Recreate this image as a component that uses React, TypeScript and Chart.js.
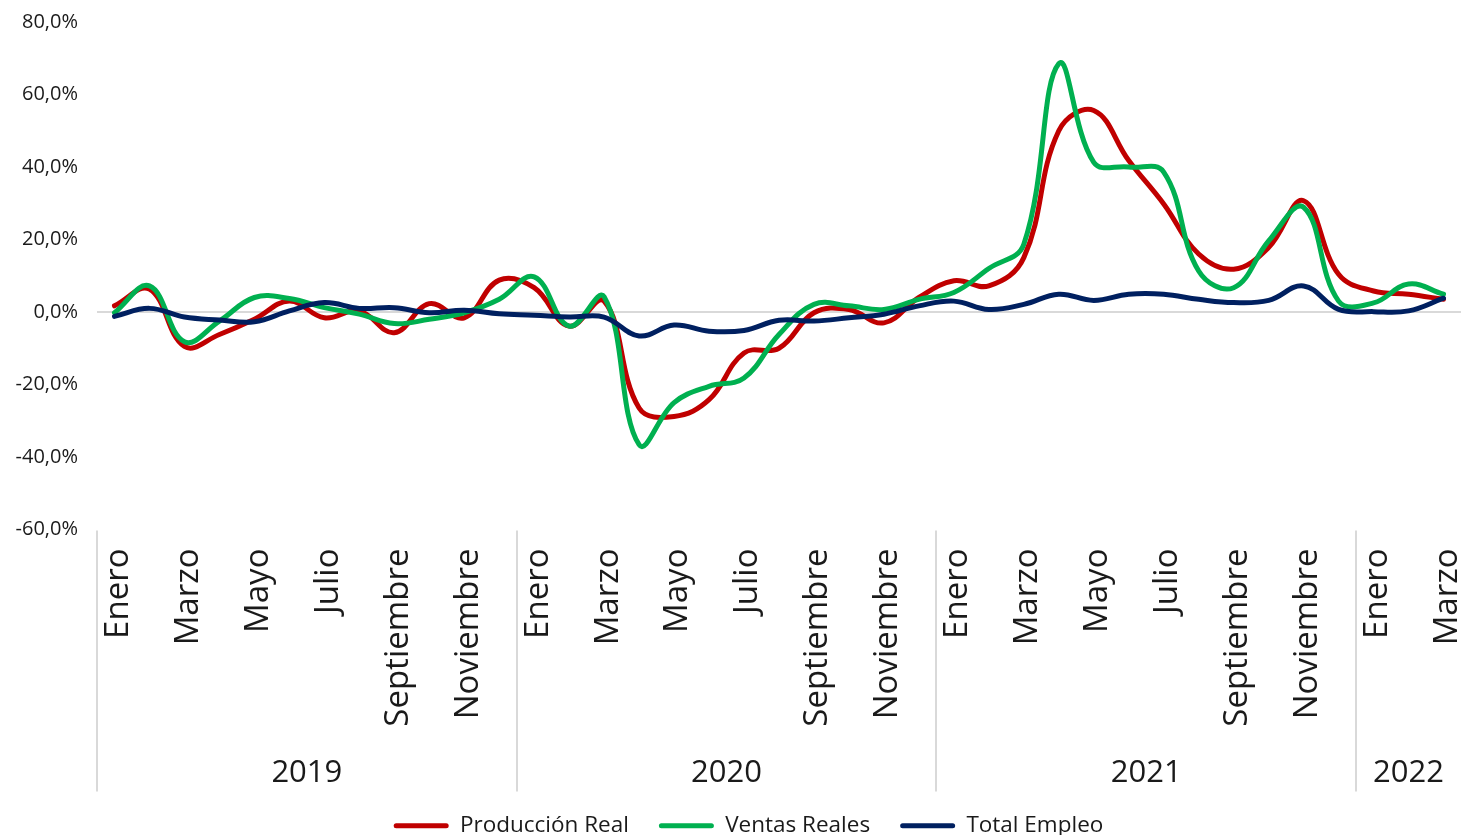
import React, { useEffect, useRef } from 'react';
import { Chart, registerables } from 'chart.js';

Chart.register(...registerables);

const MONTHS = ['Enero', 'Febrero', 'Marzo', 'Abril', 'Mayo', 'Junio', 'Julio', 'Agosto', 'Septiembre', 'Octubre', 'Noviembre', 'Diciembre'];
const CATEGORIES = [...MONTHS, ...MONTHS, ...MONTHS, 'Enero', 'Febrero', 'Marzo'];
const YEARS = ['2019', '2020', '2021', '2022'];
const YEAR_SPANS = [12, 12, 12, 3];

const PRODUCCION = [1.7, 6.3, -9.5, -6.2, -2, 3, -1.6, 0.3, -5.7, 2.3, -1.6, 8.8,
  6.7, -3.9, 3, -26.5, -28.8, -24.2, -11.3, -10, -0.2, 0.7, -3, 4,
  8.6, 7.2, 15, 50, 55.6, 41.8, 29.8, 16, 11.8, 17.8, 30.7, 10.4,
  5.8, 4.9, 3.5];
const VENTAS = [-0.2, 7.2, -8.2, -2.5, 4, 3.7, 1.2, -0.6, -3.2, -2, -0.2, 3.5,
  9.7, -3.9, 4.2, -36.6, -25, -20.5, -18.2, -6.2, 2.1, 1.7, 0.7, 3.5,
  5.4, 12, 18.7, 68.5, 41.3, 40, 38.6, 11.3, 6.7, 19.6, 28.9, 3,
  2.5, 7.7, 4.9];
const EMPLEO = [-1.2, 1, -1.4, -2.2, -2.7, 0.3, 2.6, 1, 1.2, -0.2, 0.5, -0.5,
  -0.9, -1.4, -1.4, -6.6, -3.6, -5.3, -5.1, -2.3, -2.5, -1.6, -0.6, 1.7,
  3, 0.7, 2.1, 4.9, 3.2, 4.9, 4.9, 3.5, 2.6, 3.2, 7.2, 0.7,
  0.1, 0.3, 3.8];

const SERIES = [
  { label: 'Producción Real', data: PRODUCCION, color: '#C00000', order: 3 },
  { label: 'Ventas Reales', data: VENTAS, color: '#00B050', order: 2 },
  { label: 'Total Empleo', data: EMPLEO, color: '#002060', order: 1 },
];

const FONT = "'Open Sans', sans-serif";
const TEXT = '#1a1a1a';
const SEP = '#d9d9d9';
const SEP_LENGTH = 262;
const X_AXIS_HEIGHT = 255;
const LEGEND_SHIFT = 18;

const yearAxisPlugin = {
  id: 'yearAxis',
  afterLayout(chart: any) {
    const lg = chart.legend;
    if (lg) {
      lg.left += LEGEND_SHIFT;
      lg.right += LEGEND_SHIFT;
    }
  },
  afterDraw(chart: any) {
    const xs = chart.scales.x;
    const area = chart.chartArea;
    const ctx = chart.ctx;
    const half = (xs.getPixelForValue(1) - xs.getPixelForValue(0)) / 2;
    ctx.save();
    ctx.strokeStyle = SEP;
    ctx.lineWidth = 2;
    ctx.fillStyle = TEXT;
    ctx.font = `31px ${FONT}`;
    ctx.textAlign = 'center';
    ctx.textBaseline = 'middle';
    let start = 0;
    YEARS.forEach((yr, k) => {
      const end = start + YEAR_SPANS[k] - 1;
      const left = Math.round(xs.getPixelForValue(start) - half);
      ctx.beginPath();
      ctx.moveTo(left, area.bottom + 1);
      ctx.lineTo(left, area.bottom + SEP_LENGTH);
      ctx.stroke();
      const cx = (xs.getPixelForValue(start) + xs.getPixelForValue(end)) / 2;
      ctx.fillText(yr, cx, area.bottom + 244);
      start = end + 1;
    });
    ctx.restore();
  },
};

export default function App() {
  const ref = useRef<HTMLCanvasElement | null>(null);
  useEffect(() => {
    if (!ref.current) return;
    const chart = new Chart(ref.current, {
      type: 'line',
      data: {
        labels: CATEGORIES,
        datasets: SERIES.map((s) => ({
          label: s.label,
          data: s.data,
          borderColor: s.color,
          backgroundColor: s.color,
          borderWidth: 5,
          pointRadius: 0,
          tension: 0.4,
          fill: false,
          order: s.order,
          borderCapStyle: 'round',
          borderJoinStyle: 'round',
        })),
      },
      options: {
        animation: false,
        responsive: false,
        layout: { padding: { top: 22, left: 0, right: 0, bottom: -12 } },
        plugins: {
          tooltip: { enabled: false },
          legend: {
            position: 'bottom',
            labels: {
              font: { family: FONT, size: 22.5 },
              color: TEXT,
              boxWidth: 55,
              boxHeight: 5,
              padding: 30,
              generateLabels: (c: any) =>
                c.data.datasets.map((d: any, i: number) => ({
                  text: d.label,
                  fillStyle: d.borderColor,
                  strokeStyle: d.borderColor,
                  lineWidth: 0,
                  borderRadius: 2.5,
                  fontColor: TEXT,
                  hidden: false,
                  datasetIndex: i,
                })),
            },
          },
        },
        scales: {
          x: {
            type: 'category',
            offset: true,
            grid: { display: false, drawTicks: false },
            border: { display: false },
            ticks: {
              autoSkip: false,
              minRotation: 90,
              maxRotation: 90,
              padding: 19,
              labelOffset: 4,
              color: TEXT,
              font: { family: FONT, size: 33 },
              callback: (_v: any, idx: number) => (idx % 2 === 0 ? CATEGORIES[idx] : ''),
            },
            afterFit: (scale: any) => {
              scale.height = X_AXIS_HEIGHT;
              scale.paddingLeft = 0;
              scale.paddingRight = 0;
            },
          },
          y: {
            min: -60,
            max: 80,
            grid: {
              drawTicks: false,
              lineWidth: 2,
              color: (ctx: any) => (ctx.tick && ctx.tick.value === 0 ? SEP : 'rgba(0,0,0,0)'),
            },
            border: { display: false },
            ticks: {
              stepSize: 20,
              padding: 19,
              color: TEXT,
              font: { family: FONT, size: 20 },
              callback: (v: any) => Number(v).toFixed(1).replace('.', ',') + '%',
            },
            afterFit: (scale: any) => {
              scale.width = 97;
              scale.paddingTop = 0;
              scale.paddingBottom = 0;
            },
          },
        },
      },
      plugins: [yearAxisPlugin],
    } as any);
    return () => chart.destroy();
  }, []);
  return (
    <div style={{ position: 'absolute', left: 0, top: 0, width: 1461, height: 835, background: '#fff' }}>
      <canvas ref={ref} width={1461} height={835} style={{ width: 1461, height: 835, display: 'block' }} />
    </div>
  );
}
